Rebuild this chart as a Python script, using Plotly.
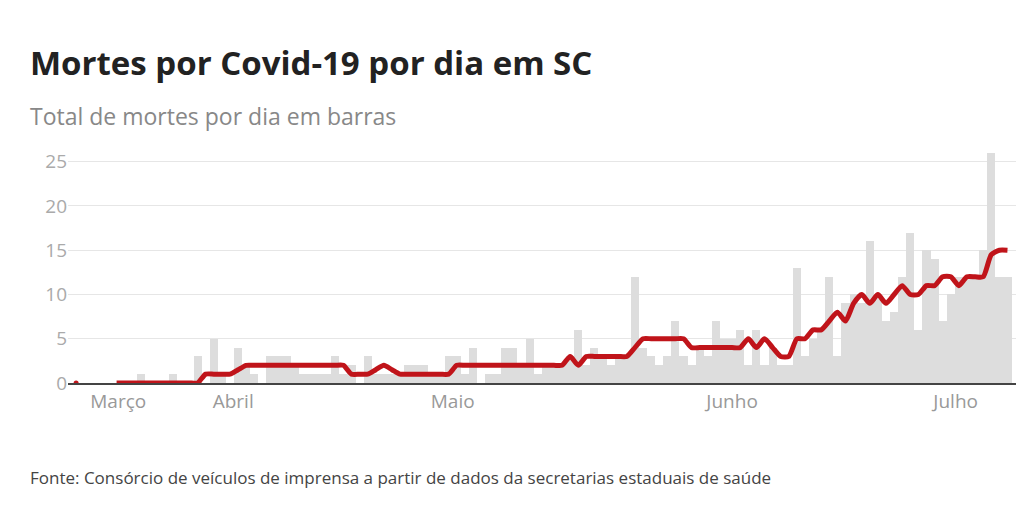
import plotly.graph_objects as go

# daily deaths, one value per day starting mid-March 2020
mortes = [0, 0, 0, 0, 0, 0, 0, 0, 1, 0, 0, 0, 1, 0, 0, 3, 0, 5, 1, 0,
          4, 2, 1, 0, 3, 3, 3, 2, 1, 1, 1, 1, 3, 1, 2, 0, 3, 1, 1, 1,
          1, 2, 2, 2, 1, 1, 3, 3, 1, 4, 0, 1, 1, 4, 4, 2, 5, 1, 2, 2,
          2, 3, 6, 2, 4, 3, 2, 3, 3, 12, 4, 3, 2, 3, 7, 3, 2, 4, 3, 7,
          5, 5, 6, 2, 6, 2, 4, 2, 2, 13, 3, 5, 6, 12, 3, 9, 10, 9, 16, 10,
          7, 8, 12, 17, 6, 15, 14, 7, 10, 12, 12, 12, 15, 26, 12, 12]

# moving average line (None where there is no line)
media = [0, None, None, None, None, 0, 0, 0, 0, 0, 0, 0, 0, 0, 0, 0, 1, 1, 1, 1,
         1.5, 2, 2, 2, 2, 2, 2, 2, 2, 2, 2, 2, 2, 2, 1, 1, 1, 1.5, 2, 1.5,
         1, 1, 1, 1, 1, 1, 1, 2, 2, 2, 2, 2, 2, 2, 2, 2, 2, 2, 2, 2,
         2, 3, 2, 3, 3, 3, 3, 3, 3, 4, 5, 5, 5, 5, 5, 5, 4, 4, 4, 4,
         4, 4, 4, 5, 4, 5, 4, 3, 3, 5, 5, 6, 6, 7, 8, 7, 9, 10, 9, 10,
         9, 10, 11, 10, 10, 11, 11, 12, 12, 11, 12, 12, 12, 14.5, 15, 15]

dias = list(range(len(mortes)))
mes_pos = [5.2, 19.4, 46.5, 81, 108.6]
mes_txt = ["Março", "Abril", "Maio", "Junho", "Julho"]

fig = go.Figure()
fig.add_trace(go.Bar(x=dias, y=mortes, marker_color="#dddddd",
                     marker_line_width=0, hoverinfo="y"))
fig.add_trace(go.Scatter(x=dias, y=media, mode="lines",
                         line=dict(color="#c0141a", width=5, shape="spline", smoothing=0.6),
                         connectgaps=False))
fig.add_trace(go.Scatter(x=[0], y=[0], mode="markers",
                         marker=dict(color="#c0141a", size=5)))

fig.update_layout(
    width=1024, height=526,
    paper_bgcolor="white", plot_bgcolor="white",
    showlegend=False, bargap=0,
    margin={'l': 60, 't': 136, 'b': 151, 'r': 14},
    font=dict(family="Open Sans", color="#999999"),
    xaxis=dict(range=[-1, 116.3], tickvals=mes_pos, ticktext=mes_txt,
               showgrid=False, showline=True, linecolor="#444444", linewidth=1.5,
               ticks="", tickfont=dict(size=19, color="#999999")),
    yaxis=dict(range=[0, 27], tickvals=[0, 5, 10, 15, 20, 25],
               gridcolor="#e6e6e6", zeroline=False, showline=False,
               ticks="", tickfont=dict(size=19, color="#aaaaaa")),
)
fig.add_annotation(text="<b>Mortes por Covid-19 por dia em SC</b>", xref="paper", yref="paper",
                   x=-0.042, y=1.339, xanchor="left", yanchor="middle", showarrow=False,
                   font=dict(size=33, color="#222222", family="Open Sans"))
fig.add_annotation(text="Total de mortes por dia em barras", xref="paper", yref="paper",
                   x=-0.042, y=1.117, xanchor="left", yanchor="middle", showarrow=False,
                   font=dict(size=23, color="#888888", family="Open Sans"))
fig.add_annotation(text="Fonte: Consórcio de veículos de imprensa a partir de dados da secretarias estaduais de saúde",
                   xref="paper", yref="paper", x=-0.042, y=-0.397, xanchor="left", yanchor="middle",
                   showarrow=False, font=dict(size=17, color="#444444", family="Open Sans"))

fig.write_html("out.html")
